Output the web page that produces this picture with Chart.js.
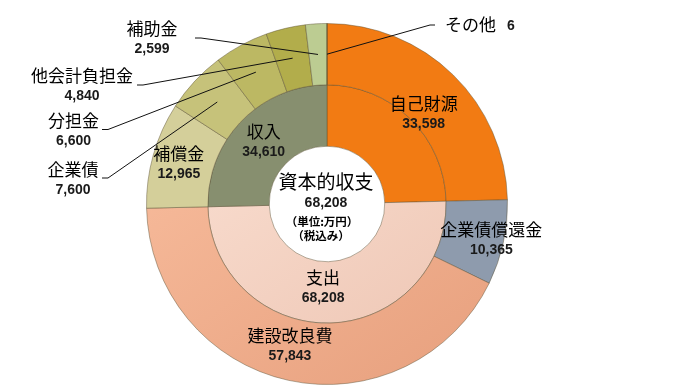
<!DOCTYPE html>
<html>
<head>
<meta charset="utf-8">
<script src="https://cdn.jsdelivr.net/npm/chart.js@4.4.1/dist/chart.umd.min.js"></script>
<style>
  body { margin: 0; background: #fff; }
</style>
</head>
<body>
<canvas id="myChart" width="675" height="392"></canvas>
<script>
// datos del grafico (万円)
const outerLabels = ['自己財源', '企業債償還金', '建設改良費', '補償金', '企業債', '分担金', '他会計負担金', '補助金', 'その他'];
const outerValues = [33598, 10365, 57843, 12965, 7600, 6600, 4840, 2599, 6];
const innerLabels = ['自己財源', '支出', '収入'];
const innerValues = [33598, 68208, 34610];
const centerTitle = '資本的収支';
const centerValue = 68208;
const centerNotes = ['（単位:万円）', '（税込み）'];

// colores
const outerColors = ['#F27B13', '#8E9BAD', ['#FBC2A3', '#E9A381'], '#D4CF9A', '#C6C27A', '#BCB863', '#B2AD4B', '#BCCC92', '#BCCC92'];
const innerColors = ['#F27B13', ['#FDE6DA', '#EEC6B4'], '#878F6F'];

// donde va cada etiqueta: dentro (desplazamiento desde el centro del arco) o fuera con linea
const outerPlace = [
  { dx: -8, dy: 17 },
  { dx: 18, dy: 4 },
  { dx: -5, dy: -5 },
  { dx: -4, dy: 0 },
  { tx: -254, ty: -24.5, lx: -225, ly: -26 },
  { tx: -253.5, ty: -73, lx: -225, ly: -74.5 },
  { tx: -245, ty: -118, lx: -190, ly: -119 },
  { tx: -175, ty: -165.5, lx: -132, ly: -166 },
  { side: 'right', tx: 118, ty: -179, lx: 108, ly: -179 }
];
const innerPlace = [null, { dx: -6, dy: -5 }, { dx: 0, dy: -1 }];

const nameFont = '17px "Noto Sans CJK JP", sans-serif';
const numFont = 'bold 14px "Liberation Sans", Arial, sans-serif';
const fmt = (v) => v.toLocaleString('en-US');

// relleno con degradado para los colores dobles
const fill = (colors) => (context) => {
  const c = colors[context.dataIndex];
  if (!Array.isArray(c)) return c;
  const area = context.chart.chartArea;
  if (!area) return c[0];
  const g = context.chart.ctx.createLinearGradient(area.left, area.top, area.right * 0.8, area.bottom);
  g.addColorStop(0, c[0]);
  g.addColorStop(1, c[1]);
  return g;
};

const twoLines = (ctx, name, value, x, y) => {
  ctx.font = nameFont;
  ctx.fillStyle = '#000';
  ctx.fillText(name, x, y - 10);
  ctx.font = numFont;
  ctx.fillStyle = '#1a1a1a';
  ctx.fillText(fmt(value), x, y + 10.5);
};

const labelPlugin = {
  id: 'labels',
  afterDatasetsDraw(chart) {
    const ctx = chart.ctx;
    const meta0 = chart.getDatasetMeta(0);
    const cx = meta0.data[0].x;
    const cy = meta0.data[0].y;
    ctx.save();
    ctx.textAlign = 'center';
    ctx.textBaseline = 'middle';

    const drawSet = (metaIndex, labels, values, places) => {
      const meta = chart.getDatasetMeta(metaIndex);
      meta.data.forEach((arc, i) => {
        const p = places[i];
        if (!p) return;
        const c = arc.getCenterPoint();
        if (p.tx === undefined) {
          twoLines(ctx, labels[i], values[i], c.x + p.dx, c.y + p.dy);
          return;
        }
        // linea guia
        const lx = cx + p.lx, ly = cy + p.ly;
        const step = p.side === 'right' ? -5 : 6;
        ctx.strokeStyle = '#111';
        ctx.lineWidth = 1;
        ctx.beginPath();
        ctx.moveTo(lx, ly);
        ctx.lineTo(lx + step, ly);
        ctx.lineTo(c.x, c.y);
        ctx.stroke();
        if (p.side === 'right') {
          ctx.textAlign = 'left';
          ctx.font = nameFont;
          ctx.fillStyle = '#000';
          ctx.fillText(labels[i], cx + p.tx, cy + p.ty);
          const w = ctx.measureText(labels[i]).width;
          ctx.font = numFont;
          ctx.fillStyle = '#1a1a1a';
          ctx.fillText(fmt(values[i]), cx + p.tx + w + 11, cy + p.ty + 1);
          ctx.textAlign = 'center';
        } else {
          twoLines(ctx, labels[i], values[i], cx + p.tx, cy + p.ty);
        }
      });
    };
    drawSet(0, outerLabels, outerValues, outerPlace);
    drawSet(1, innerLabels, innerValues, innerPlace);

    // texto del centro
    ctx.font = '19px "Noto Sans CJK JP", sans-serif';
    ctx.fillStyle = '#000';
    ctx.fillText(centerTitle, cx - 1, cy - 22);
    ctx.font = numFont;
    ctx.fillStyle = '#1a1a1a';
    ctx.fillText(fmt(centerValue), cx - 1, cy - 1);
    ctx.font = 'bold 11.5px "Noto Sans CJK JP", sans-serif';
    ctx.fillStyle = '#000';
    ctx.fillText(centerNotes[0], cx - 5, cy + 18);
    ctx.fillText(centerNotes[1], cx - 6, cy + 32);
    ctx.restore();
  }
};

const config = {
  type: 'doughnut',
  data: {
    labels: outerLabels,
    datasets: [
      {
        data: outerValues,
        backgroundColor: fill(outerColors),
        borderColor: 'rgba(90, 80, 50, 0.45)',
        borderWidth: 1
      },
      {
        data: innerValues,
        backgroundColor: fill(innerColors),
        borderColor: 'rgba(90, 80, 50, 0.45)',
        borderWidth: 1
      }
    ]
  },
  options: {
    responsive: false,
    animation: false,
    cutout: '32%',
    layout: { padding: { left: 146, right: 167, top: 23, bottom: 7 } },
    plugins: {
      legend: { display: false },
      tooltip: { enabled: false }
    }
  },
  plugins: [labelPlugin]
};

const myChart = new Chart(document.getElementById('myChart'), config);
</script>
</body>
</html>
